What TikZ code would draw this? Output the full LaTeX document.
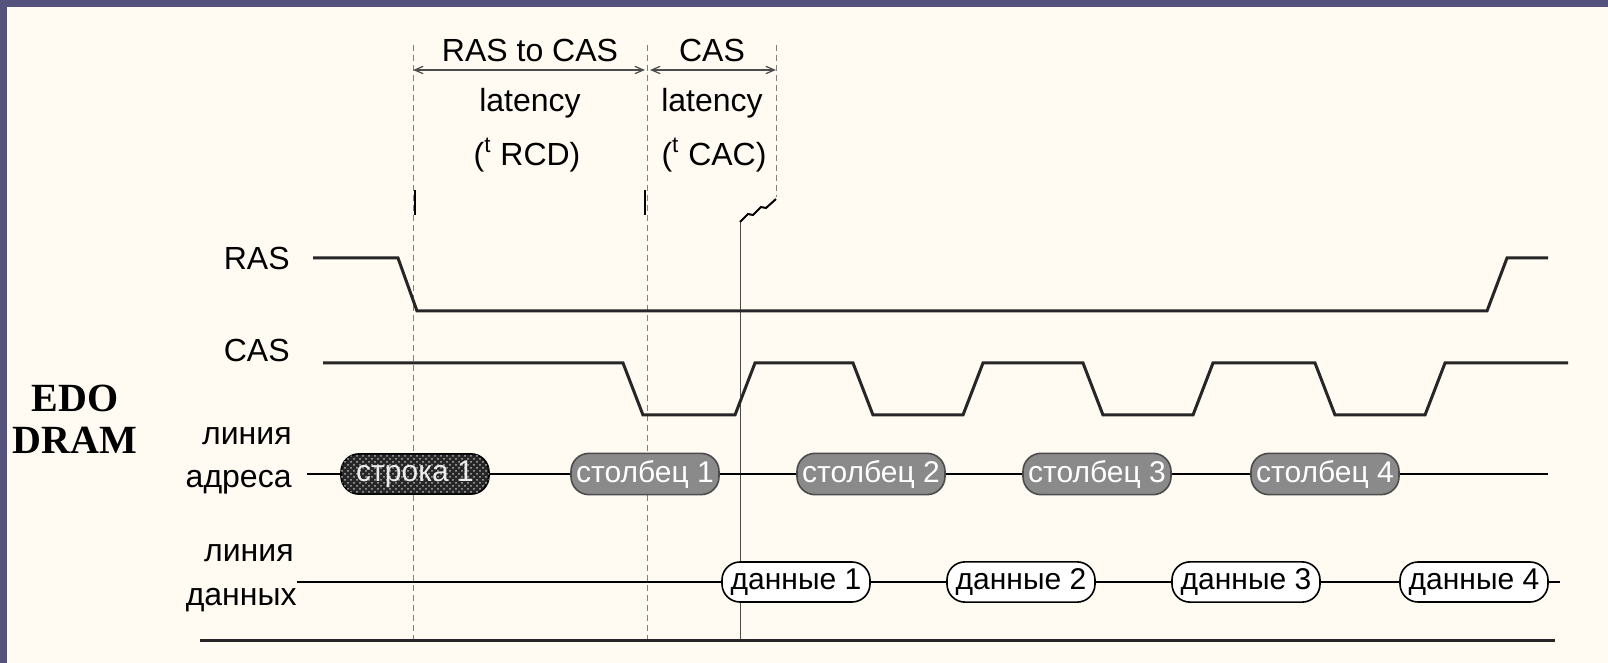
\documentclass[tikz,border=0pt]{standalone}
\usepackage{fontspec}
\setmainfont{Liberation Sans}
\newfontfamily\edofont{Liberation Serif}
\usepackage{tikz}
\usetikzlibrary{arrows,positioning,patterns,calc}

\definecolor{slide}{HTML}{55527E}
\definecolor{paper}{HTML}{FFFAF2}
\definecolor{colgray}{HTML}{8A8A8A}

\begin{document}
\begin{tikzpicture}[x=0.5pt,y=-0.5pt,
  sig/.style={line width=1.5pt,black!85},
  guide/.style={densely dashed,line width=0.4pt,gray},
  lbl/.style={font=\fontsize{16}{18}\selectfont,inner sep=0pt},
  bus/.style={rounded corners=9pt,minimum height=20pt,minimum width=74pt,inner xsep=2pt,font=\fontsize{15}{17}\selectfont,line width=0.8pt},
  rowbox/.style={bus,draw=black,fill=black!85,text=white!85!gray,postaction={pattern=crosshatch dots,pattern color=gray!60}},
  colbox/.style={bus,draw=black!70,fill=colgray,text=white},
  databox/.style={bus,draw=black,fill=white}]
\fill[slide] (0,0) rectangle (1608,663);
\fill[paper] (7,7) rectangle (1608,663);
% guides
\draw[guide] (413,45) -- (413,640);
\draw[guide] (647,45) -- (647,640);
\draw[guide] (776,45) -- (776,197);
\draw[line width=1pt] (415,190) -- (415,215);
\draw[line width=1pt] (645,190) -- (645,215);
\draw[line width=0.5pt,black!70] (740,640) -- (740,222);
\draw[line width=1pt] (740,222) -- (748,214) -- (753,215) -- (761,207) -- (766,208) -- (776,199);
\draw[<->,>=angle 45,line width=0.6pt,black!70] (413,70) -- (645,70);
\draw[<->,>=angle 45,line width=0.6pt,black!70] (650,70) -- (776,70);
\node[lbl] (rtc) at (530,50) {RAS to CAS};
\node[lbl] (cas) at (712,50) {CAS};
\node[lbl] (lat1) at (530,103) {latency};
\node[lbl] (lat2) at (712,103) {latency};
\node[lbl] (rcd) at (527,155) {(\textsuperscript{t} RCD)};
\node[lbl] (cac) at (714,155) {(\textsuperscript{t} CAC)};
% signal names
\node[font=\edofont\bfseries\fontsize{20}{21}\selectfont,align=center] (edo) at (75,419) {EDO\\DRAM};
\node[lbl,anchor=east] (rasl) at (290,258) {RAS};
\node[lbl,anchor=east] (casl) at (290,350) {CAS};
\node[lbl,anchor=east] (al1) at (292,436) {линия};
\node[lbl,anchor=east] (al2) at (292,482) {адреса};
\node[lbl,anchor=east] (dl1) at (294,553) {линия};
\node[lbl,anchor=east] (dl2) at (297,600) {данных};
% RAS and CAS
\draw[sig] (313,258) -- (398,258) -- (417,311) -- (1487,311) -- (1507,258) -- (1548,258);
\draw[sig] (323,363) -- (623,363) -- (643,415) -- (735,415) -- (755,363) -- (853,363) -- (873,415) -- (963,415) -- (983,363) -- (1083,363) -- (1103,415) -- (1193,415) -- (1213,363) -- (1315,363) -- (1335,415) -- (1425,415) -- (1445,363) -- (1568,363);
% address line
\coordinate (abeg) at (307,474);
\coordinate (aend) at (1548,474);
\node[rowbox] (row1) at (415,474) {строка 1};
\node[colbox] (col1) at (645,474) {столбец 1};
\foreach \i/\x in {2/871,3/1097,4/1325}
  \node[colbox] (col\i) at (\x,474) {столбец \i};
\draw[line width=1pt] (abeg) -- (row1) (row1) -- (col1) (col1) -- (col2) (col2) -- (col3) (col3) -- (col4) (col4) -- (aend);
% data line
\coordinate (dbeg) at (297,582);
\coordinate (dend) at (1560,582);
\foreach \i/\x in {1/796,2/1021,3/1246,4/1474}
  \node[databox] (dat\i) at (\x,582) {данные \i};
\draw[line width=1pt] (dbeg) -- (dat1) (dat1) -- (dat2) (dat2) -- (dat3) (dat3) -- (dat4) (dat4) -- (dend);
\draw[sig] (200,640) -- (1555,640);
\end{tikzpicture}
\end{document}
